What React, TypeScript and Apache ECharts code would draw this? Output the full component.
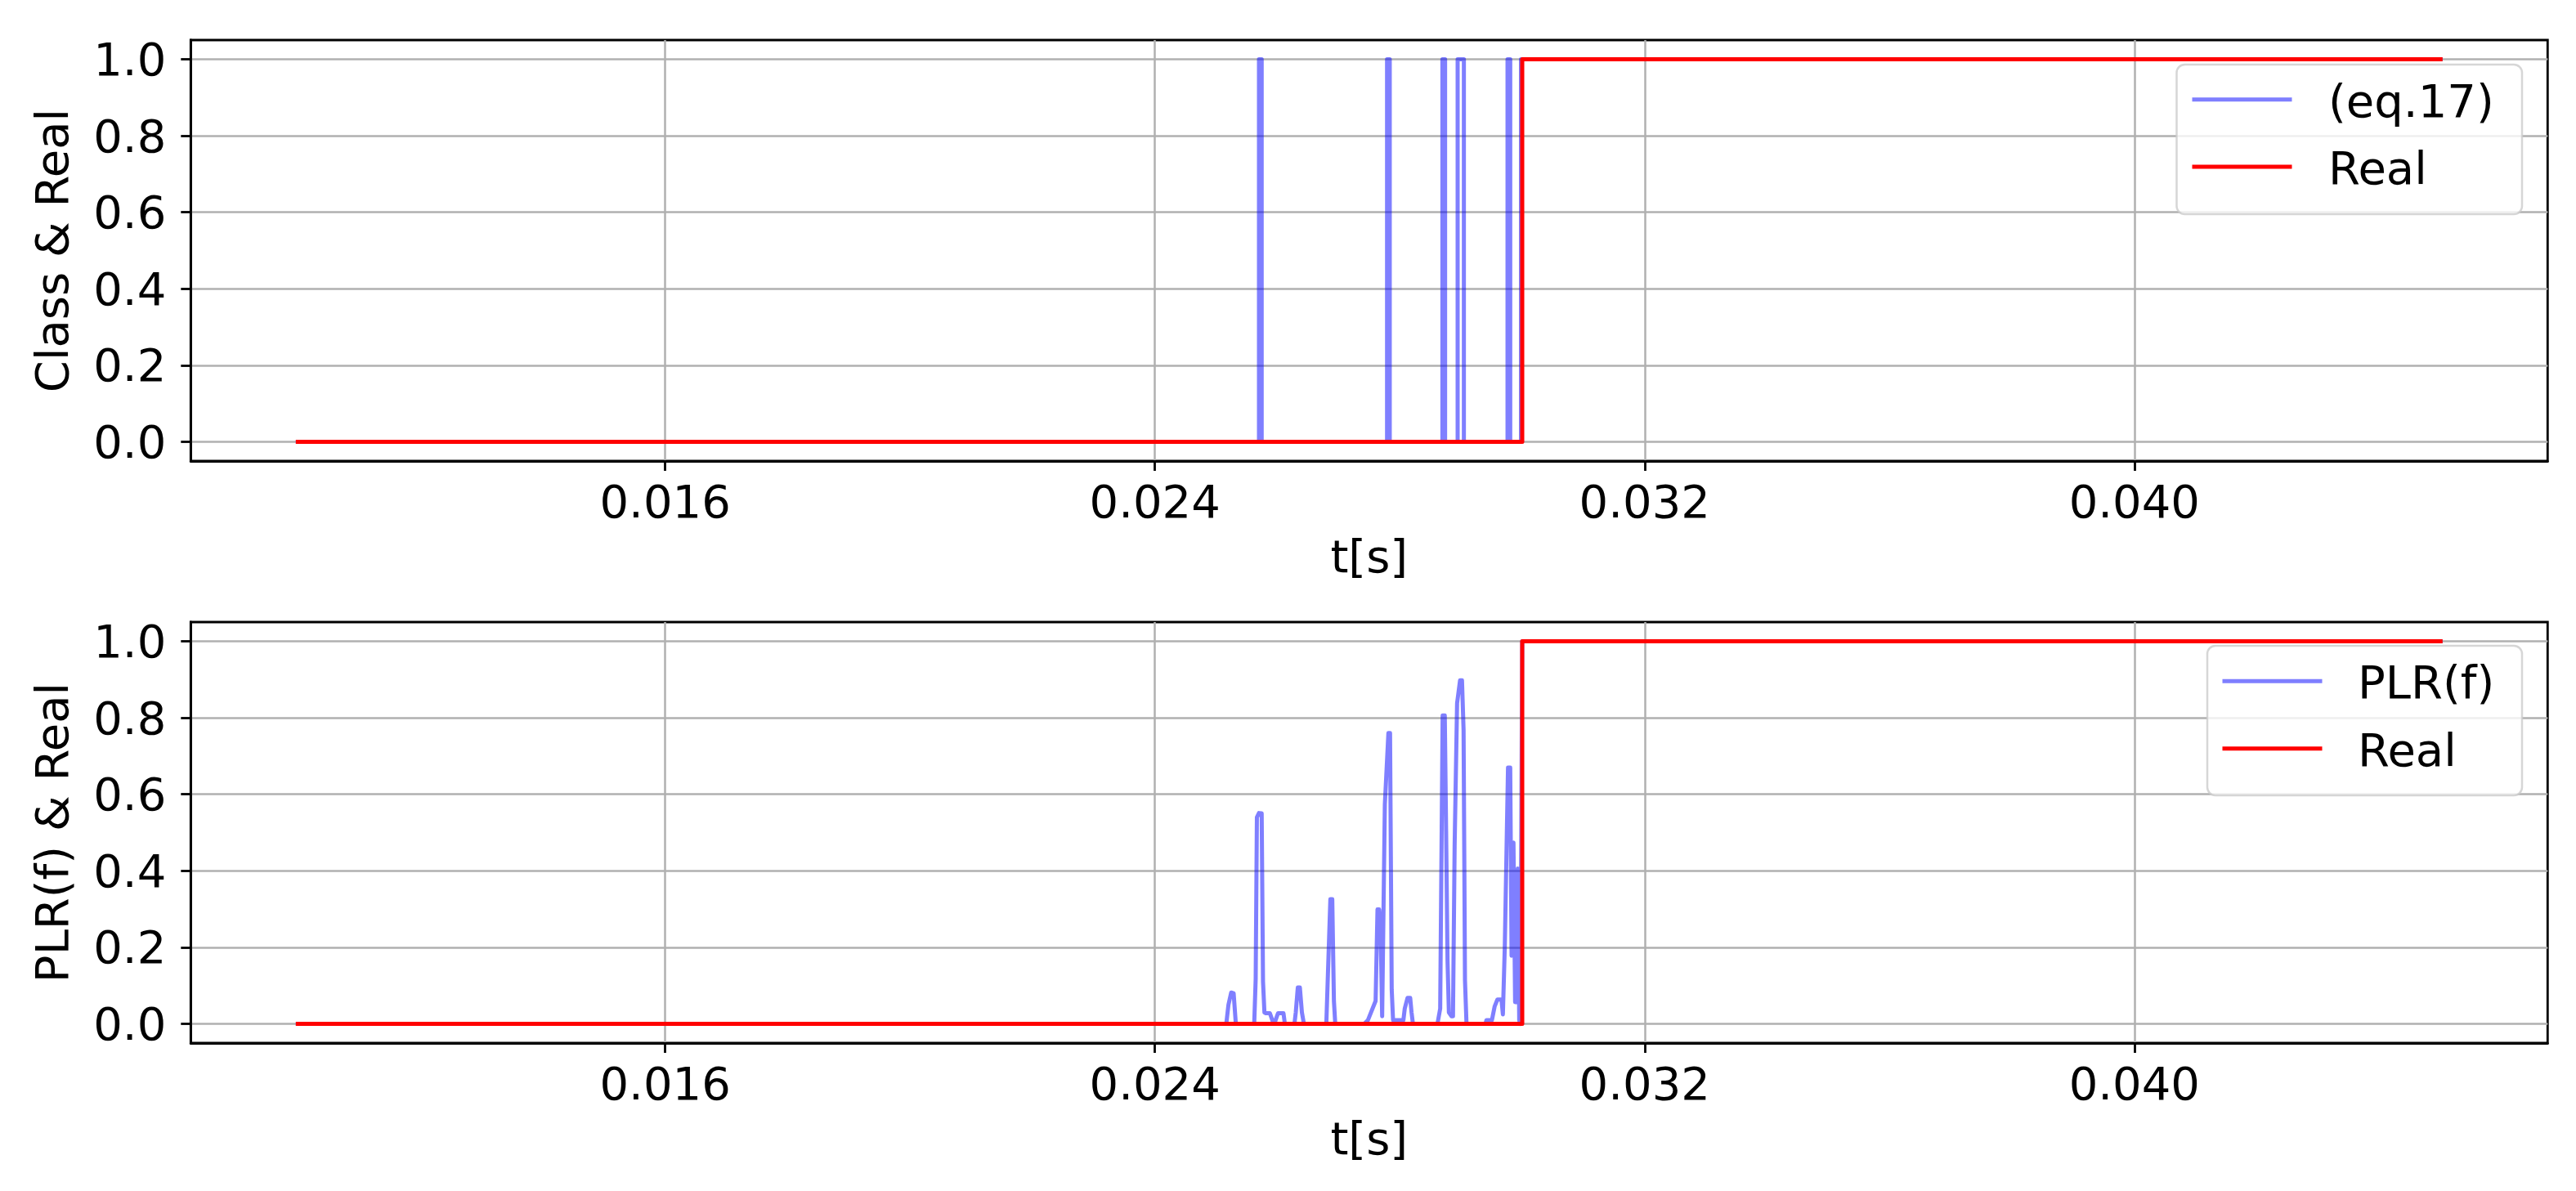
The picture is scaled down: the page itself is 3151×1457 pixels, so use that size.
import React, { useEffect, useRef } from "react";
import * as echarts from "echarts";

// ---- axes ----
const X_MIN = 0.00825;
const X_MAX = 0.04675;
const Y_MIN = -0.05;
const Y_MAX = 1.05;
const X_TICKS = [0.016, 0.024, 0.032, 0.04];
const Y_TICKS = [0, 0.2, 0.4, 0.6, 0.8, 1.0];

// ---- Real (step) ----
const REAL_T = [0.01, 0.03, 0.03, 0.045];
const REAL_V = [0, 0, 1, 1];

// ---- (eq.17) classifier output ----
const EQ17_T = [
  0.01, 0.0257, 0.0257, 0.025744, 0.025744, 0.027792, 0.027792, 0.027836, 0.027836,
  0.028696, 0.028696, 0.02874, 0.02874, 0.028945, 0.028945, 0.029047, 0.029047,
  0.02976, 0.02976, 0.029804, 0.029804, 0.02998, 0.02998, 0.045,
];
const EQ17_V = [
  0, 0, 1, 1, 0, 0, 1, 1, 0,
  0, 1, 1, 0, 0, 1, 1, 0,
  0, 1, 1, 0, 0, 1, 1,
];

// ---- PLR(f) ----
const PLR_T = [
  0.01, 0.025166, 0.025201, 0.025246, 0.025286, 0.025322,
  0.025622, 0.025646, 0.025666, 0.0257, 0.025744, 0.025766, 0.025789, 0.025811, 0.025833, 0.025878,
  0.025922, 0.025967, 0.026011, 0.0261, 0.026123,
  0.026279, 0.026301, 0.026334, 0.026368, 0.026401, 0.026434,
  0.0268, 0.026826, 0.026866, 0.026897, 0.026924, 0.026946,
  0.02742, 0.02748, 0.027605, 0.027636, 0.027663, 0.027685, 0.027712, 0.027756, 0.027814,
  0.027841, 0.027868, 0.02789, 0.028059, 0.028081, 0.028126, 0.02817, 0.028192, 0.028215,
  0.028615, 0.02866, 0.0287, 0.028735, 0.028757, 0.02878, 0.028802, 0.028846, 0.028869,
  0.028896, 0.028936, 0.028985, 0.029016, 0.029042, 0.029065, 0.02909,
  0.0294, 0.029416, 0.029505, 0.02955, 0.029595, 0.029661, 0.029684, 0.029715, 0.029768,
  0.029804, 0.029826, 0.029857, 0.029884, 0.029906, 0.029928, 0.029951, 0.02997,
  0.03, 0.045,
];
const PLR_V = [
  0, 0, 0.05, 0.082, 0.08, 0,
  0, 0.117, 0.54, 0.551, 0.55, 0.11, 0.03, 0.028, 0.028, 0.028,
  0.008, 0.008, 0.028, 0.028, 0,
  0, 0.03, 0.095, 0.095, 0.03, 0,
  0, 0.13, 0.326, 0.326, 0.06, 0,
  0, 0.01, 0.06, 0.299, 0.299, 0.26, 0.02, 0.574, 0.76,
  0.76, 0.09, 0.01, 0.01, 0.04, 0.068, 0.068, 0.03, 0,
  0, 0.04, 0.806, 0.806, 0.502, 0.164, 0.03, 0.02, 0.02,
  0.467, 0.838, 0.898, 0.898, 0.768, 0.114, 0,
  0, 0.01, 0.01, 0.046, 0.064, 0.064, 0.025, 0.2, 0.67,
  0.67, 0.178, 0.474, 0.057, 0.057, 0.406, 0.01, 0,
  1, 1,
];

const zip = (t: number[], v: number[]) => t.map((x, i) => [x, v[i]]);

const FONT = "DejaVu Sans";
const FS = 56;
const BLUE = "rgba(0,0,255,0.5)";
const RED = "#ff0000";

export default function App() {
  const ref = useRef<HTMLDivElement>(null);

  useEffect(() => {
    if (!ref.current) return;
    const chart = echarts.init(ref.current, null, { renderer: "svg" });

    const grids = [
      { left: 233.3, top: 49, width: 2883, height: 515 },
      { left: 233.3, top: 761, width: 2883, height: 515 },
    ];
    const yNames = ["Class & Real", "PLR(f) & Real"];

    const xAxis = grids.map((_, i) => ({
      type: "value",
      gridIndex: i,
      min: X_MIN,
      max: X_MAX,
      name: "t[s]",
      nameLocation: "middle",
      nameGap: 88,
      nameTextStyle: { fontSize: FS, fontFamily: FONT, color: "#000" },
      axisLine: { show: true, onZero: false, lineStyle: { color: "#000", width: 2.8 } },
      axisTick: {
        show: true,
        inside: false,
        length: 12,
        customValues: X_TICKS,
        lineStyle: { color: "#000", width: 2.8 },
      },
      axisLabel: {
        show: true,
        margin: 21,
        customValues: X_TICKS,
        formatter: (v: number) => v.toFixed(3),
        fontSize: FS,
        fontFamily: FONT,
        color: "#000",
      },
      splitLine: { show: true, lineStyle: { color: "#b0b0b0", width: 2.5 } },
    }));

    const yAxis = grids.map((_, i) => ({
      type: "value",
      gridIndex: i,
      min: Y_MIN,
      max: Y_MAX,
      name: yNames[i],
      nameLocation: "middle",
      nameGap: 142,
      nameTextStyle: { fontSize: FS, fontFamily: FONT, color: "#000" },
      axisLine: { show: true, onZero: false, lineStyle: { color: "#000", width: 2.8 } },
      axisTick: {
        show: true,
        inside: false,
        length: 12,
        customValues: Y_TICKS,
        lineStyle: { color: "#000", width: 2.8 },
      },
      axisLabel: {
        show: true,
        margin: 30,
        customValues: Y_TICKS,
        formatter: (v: number) => v.toFixed(1),
        fontSize: FS,
        fontFamily: FONT,
        color: "#000",
      },
      splitLine: { show: true, lineStyle: { color: "#b0b0b0", width: 2.5 } },
    }));

    const lineSeries = (name: string, data: number[][], idx: number, color: string, z: number) => ({
      type: "line",
      name,
      xAxisIndex: idx,
      yAxisIndex: idx,
      data,
      showSymbol: false,
      symbol: "none",
      z,
      lineStyle: { color, width: 5, cap: "square", join: "round" },
      emphasis: { disabled: true },
    });

    const legendBox = (
      x: number, y: number, w: number, h: number,
      lx1: number, lx2: number, ly1: number, ly2: number,
      tx: number, label1: string
    ) => [
      {
        type: "rect",
        z: 100,
        shape: { x, y, width: w, height: h, r: 10 },
        style: { fill: "rgba(255,255,255,0.8)", stroke: "rgba(204,204,204,0.8)", lineWidth: 2.5 },
      },
      {
        type: "line",
        z: 101,
        shape: { x1: lx1, y1: ly1, x2: lx2, y2: ly1 },
        style: { stroke: BLUE, lineWidth: 5, lineCap: "square" },
      },
      {
        type: "line",
        z: 101,
        shape: { x1: lx1, y1: ly2, x2: lx2, y2: ly2 },
        style: { stroke: RED, lineWidth: 5, lineCap: "square" },
      },
      {
        type: "text",
        z: 101,
        x: tx,
        y: ly1 + 1.5,
        style: { text: label1, fill: "#000", fontSize: FS, fontFamily: FONT, align: "left", verticalAlign: "middle" },
      },
      {
        type: "text",
        z: 101,
        x: tx,
        y: ly2 + 1.5,
        style: { text: "Real", fill: "#000", fontSize: FS, fontFamily: FONT, align: "left", verticalAlign: "middle" },
      },
    ];

    chart.setOption({
      animation: false,
      backgroundColor: "#ffffff",
      textStyle: { fontFamily: FONT },
      grid: grids.map((g) => ({
        ...g,
        show: true,
        borderColor: "#000",
        borderWidth: 2.8,
        backgroundColor: "transparent",
        containLabel: false,
      })),
      xAxis,
      yAxis,
      series: [
        lineSeries("(eq.17)", zip(EQ17_T, EQ17_V), 0, BLUE, 2),
        lineSeries("Real", zip(REAL_T, REAL_V), 0, RED, 3),
        lineSeries("PLR(f)", zip(PLR_T, PLR_V), 1, BLUE, 2),
        lineSeries("Real", zip(REAL_T, REAL_V), 1, RED, 3),
      ],
      graphic: [
        ...legendBox(2662.5, 79, 422.5, 183, 2684, 2801, 121.7, 204, 2848, "(eq.17)"),
        ...legendBox(2700, 790, 385, 183, 2721, 2838, 833.3, 915.7, 2884, "PLR(f)"),
      ],
    });

    return () => chart.dispose();
  }, []);

  return (
    <div
      ref={ref}
      style={{ position: "absolute", left: 0, top: 0, width: 3151, height: 1457, background: "#fff" }}
    />
  );
}
